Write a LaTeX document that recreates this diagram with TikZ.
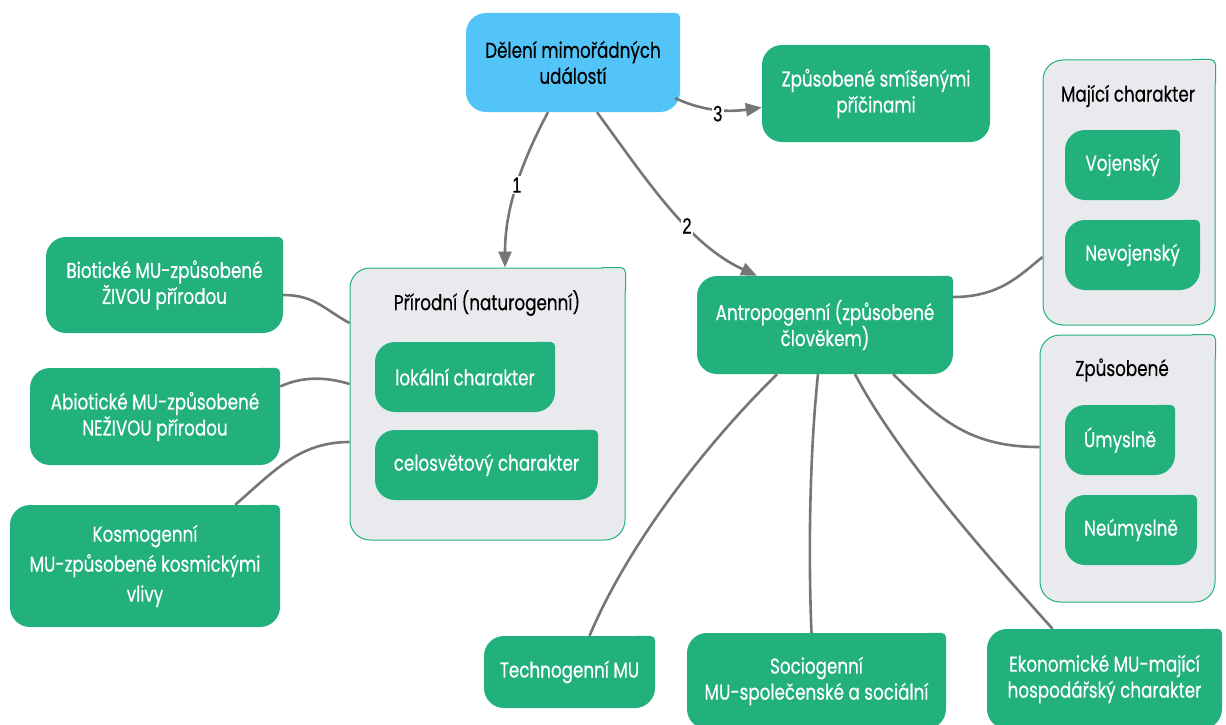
\documentclass[tikz,border=0pt]{standalone}
\usepackage{fontspec}
\setmainfont{Poppins}[FakeStretch=0.78, FakeBold=0.4]
\newfontfamily\lblfont{Liberation Sans}[FakeStretch=0.75, FakeBold=0.6]
\usetikzlibrary{arrows.meta}
\definecolor{gcol}{RGB}{34,176,125}
\definecolor{bcol}{RGB}{82,196,247}
\definecolor{ccol}{RGB}{233,234,238}
\definecolor{lcol}{RGB}{118,118,118}
\newcommand\sharpTR[2]{\fill[#2, rounded corners=5pt] ([xshift=-24pt]#1.north east) -- (#1.north east) -- ([yshift=-24pt]#1.north east) -- cycle;}
\newcommand\sharpTRc[1]{\filldraw[fill=ccol, draw=gcol, line width=1pt, rounded corners=5pt] ([xshift=-24pt]#1.north east) -- (#1.north east) -- ([yshift=-24pt]#1.north east);}
\tikzset{
 base/.style={rectangle, rounded corners=20pt, align=center, inner sep=0pt, font=\fontsize{21.5}{26}\selectfont},
 gbox/.style={base, fill=gcol, text=white},
 bbox/.style={base, fill=bcol, text=black},
 cbox/.style={base, fill=ccol, draw=gcol, line width=1pt},
 ttl/.style={font=\fontsize{21.5}{26}\selectfont, text=black, inner sep=0pt},
 conn/.style={draw=lcol, line width=2.6pt},
 arr/.style={conn, -{Triangle[length=16pt,width=13pt]}},
 lbl/.style={fill=white, inner sep=1.5pt, font=\lblfont\fontsize{22}{22}\selectfont, text=black},
}
\begin{document}
\begin{tikzpicture}[x=1pt,y=-1pt]
\useasboundingbox (0,0) rectangle (1226,725);
% root and mixed
\node[bbox, minimum width=214pt, minimum height=99pt] (root) at (573,62.5) {Dělení mimořádných\\událostí};
\sharpTR{root}{bcol}
\node[gbox, minimum width=228pt, minimum height=97pt] (mix) at (876,93.5) {Způsobené smíšenými\\příčinami};
\sharpTR{mix}{gcol}
% Prirodni container
\node[cbox, minimum width=275pt, minimum height=272pt] (prir) at (487.5,404) {};
\sharpTRc{prir}
\node[ttl] (prirt) at (487,303) {Přírodní (naturogenní)};
\node[gbox, minimum width=180pt, minimum height=70pt] (lok) at (465,377) {lokální charakter};
\sharpTR{lok}{gcol}
\node[gbox, minimum width=223pt, minimum height=70pt] (celo) at (486.5,465) {celosvětový charakter};
\sharpTR{celo}{gcol}
% left nodes
\node[gbox, minimum width=237pt, minimum height=96pt] (bio) at (164.5,285) {Biotické MU-způsobené\\ŽIVOU přírodou};
\sharpTR{bio}{gcol}
\node[gbox, minimum width=250pt, minimum height=97pt] (abio) at (155,416.5) {Abiotické MU-způsobené\\NEŽIVOU přírodou};
\sharpTR{abio}{gcol}
\node[gbox, minimum width=270pt, minimum height=122pt, font=\fontsize{21.5}{30}\selectfont] (kos) at (145,566) {Kosmogenní\\MU-způsobené kosmickými\\vlivy};
\sharpTR{kos}{gcol}
% Antropogenni
\node[gbox, minimum width=256pt, minimum height=98pt] (antr) at (825,325) {Antropogenní (způsobené\\člověkem)};
\sharpTR{antr}{gcol}
% Majici container
\node[cbox, minimum width=172pt, minimum height=265pt] (maj) at (1129,192.5) {};
\sharpTRc{maj}
\node[ttl] (majt) at (1128,96) {Mající charakter};
\node[gbox, minimum width=115pt, minimum height=70pt] (voj) at (1122.5,165) {Vojenský};
\sharpTR{voj}{gcol}
\node[gbox, minimum width=135pt, minimum height=70pt] (nevoj) at (1132.5,255) {Nevojenský};
\sharpTR{nevoj}{gcol}
% Zpusobene container
\node[cbox, minimum width=175pt, minimum height=267pt] (zp) at (1127.5,468.5) {};
\sharpTRc{zp}
\node[ttl] (zpt) at (1122,370) {Způsobené};
\node[gbox, minimum width=110pt, minimum height=70pt] (umy) at (1120,440) {Úmyslně};
\sharpTR{umy}{gcol}
\node[gbox, minimum width=132pt, minimum height=70pt] (neumy) at (1131,530) {Neúmyslně};
\sharpTR{neumy}{gcol}
% bottom nodes
\node[gbox, minimum width=171pt, minimum height=72pt] (tech) at (569.5,672) {Technogenní MU};
\sharpTR{tech}{gcol}
\node[gbox, minimum width=259pt, minimum height=96pt] (socio) at (816.5,681) {Sociogenní\\MU-společenské a sociální};
\sharpTR{socio}{gcol}
\node[gbox, minimum width=235pt, minimum height=100pt] (eko) at (1104.5,679) {Ekonomické MU-mající\\hospodářský charakter};
\sharpTR{eko}{gcol}
% arrows
\draw[arr] ([xshift=-25pt]root.south) .. controls (520,165) and (505,210) .. ([xshift=17.5pt]prir.north) node[lbl, pos=0.48] (l1) {1};
\draw[arr] ([xshift=24pt]root.south) .. controls (650,185) and (690,245) .. ([xshift=-68pt]antr.north) node[lbl, pos=0.6] (l2) {2};
\draw[arr] ([shift={(-5pt,14pt)}]root.south east) .. controls (705,112) and (730,112) .. ([yshift=-14pt]mix.west) node[lbl, pos=0.5, yshift=-4pt] (l3) {3};
% plain connectors
\draw[conn] ([yshift=-10pt]bio.east) .. controls (315,295) and (325,310) .. ([yshift=81pt]prir.west);
\draw[conn] ([yshift=30pt]abio.east) .. controls (305,375) and (330,378) .. ([yshift=20pt]prir.west);
\draw[conn] ([xshift=-45pt]kos.north east) .. controls (275,470) and (300,442) .. ([yshift=-38pt]prir.west);
\draw[conn] ([yshift=28pt]antr.east) .. controls (1000,297) and (1020,275) .. ([yshift=-64.5pt]maj.west);
\draw[conn] ([xshift=-60pt]antr.south east) .. controls (940,420) and (970,447) .. ([yshift=21.5pt]zp.west);
\draw[conn] ([xshift=-48pt]antr.south) .. controls (710,440) and (630,540) .. ([xshift=20pt]tech.north);
\draw[conn] ([xshift=-7pt]antr.south) .. controls (810,450) and (808,550) .. ([xshift=-5pt]socio.north);
\draw[conn] ([xshift=30pt]antr.south) .. controls (900,460) and (1000,570) .. ([xshift=-52pt]eko.north);
\end{tikzpicture}
\end{document}
